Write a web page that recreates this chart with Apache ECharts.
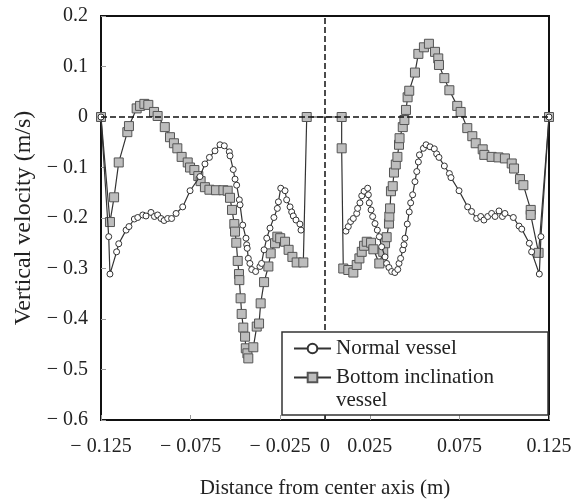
<!DOCTYPE html>
<html>
<head>
<meta charset="utf-8">
<script src="https://cdn.jsdelivr.net/npm/echarts@6/dist/echarts.min.js"></script>
<style>
  html, body { margin: 0; padding: 0; background: #fff; }
  #chart { width: 582px; height: 501px; }
</style>
</head>
<body>
<div id="chart"></div>
<script>
// normal vessel, left half of the section
const normalLeftX = [-0.125, -0.1207, -0.1200, -0.1163, -0.1151, -0.1110, -0.1094, -0.1064, -0.1045, -0.1017,
  -0.0999, -0.0971, -0.0952, -0.0934, -0.0915, -0.0898, -0.0878, -0.0856, -0.0831, -0.0794,
  -0.0753, -0.0698, -0.0670, -0.0645, -0.0614, -0.0586, -0.0562, -0.0534, -0.0530, -0.0512,
  -0.0502, -0.0493, -0.0478, -0.0474, -0.0459, -0.0441, -0.0437, -0.0434, -0.0428, -0.0419,
  -0.0409, -0.0387, -0.0363, -0.0354, -0.0340, -0.0325, -0.0307, -0.0285, -0.0266, -0.0260,
  -0.0247, -0.0223, -0.0214, -0.0195, -0.0186, -0.0177, -0.0162, -0.0140, -0.0134];
const normalLeftY = [0, -0.237, -0.311, -0.267, -0.251, -0.224, -0.217, -0.202, -0.199, -0.194,
  -0.196, -0.189, -0.197, -0.194, -0.201, -0.205, -0.201, -0.201, -0.191, -0.178,
  -0.146, -0.118, -0.093, -0.080, -0.067, -0.055, -0.057, -0.069, -0.077, -0.104,
  -0.123, -0.135, -0.164, -0.174, -0.214, -0.240, -0.253, -0.260, -0.280, -0.290,
  -0.302, -0.306, -0.296, -0.290, -0.263, -0.240, -0.220, -0.199, -0.181, -0.168,
  -0.141, -0.146, -0.164, -0.178, -0.188, -0.196, -0.204, -0.212, -0.224];

// normal vessel, right half
const normalRightX = [0.0117, 0.0130, 0.0143, 0.0158, 0.0177, 0.0182, 0.0195, 0.0205, 0.0218, 0.0238,
  0.0242, 0.0247, 0.0257, 0.0266, 0.0279, 0.0292, 0.0303, 0.0316, 0.0335, 0.0344,
  0.0357, 0.0372, 0.0390, 0.0406, 0.0413, 0.0422, 0.0434, 0.0441, 0.0446, 0.0459,
  0.0470, 0.0478, 0.0489, 0.0502, 0.0512, 0.0521, 0.0527, 0.0549, 0.0564, 0.0586,
  0.0610, 0.0623, 0.0636, 0.0666, 0.0694, 0.0703, 0.0748, 0.0796, 0.0818, 0.0846,
  0.0869, 0.0887, 0.0908, 0.0930, 0.0949, 0.0971, 0.0990, 0.1004, 0.1051, 0.1083,
  0.1098, 0.1140, 0.1153, 0.1196, 0.1205, 0.125];
const normalRightY = [-0.226, -0.217, -0.207, -0.201, -0.191, -0.181, -0.170, -0.156, -0.147, -0.141,
  -0.154, -0.170, -0.184, -0.197, -0.211, -0.224, -0.237, -0.257, -0.277, -0.290,
  -0.298, -0.306, -0.308, -0.302, -0.290, -0.280, -0.263, -0.253, -0.240, -0.212,
  -0.188, -0.170, -0.154, -0.128, -0.108, -0.089, -0.075, -0.062, -0.055, -0.059,
  -0.063, -0.073, -0.080, -0.097, -0.112, -0.120, -0.146, -0.178, -0.187, -0.201,
  -0.197, -0.204, -0.197, -0.191, -0.197, -0.186, -0.197, -0.191, -0.199, -0.216,
  -0.222, -0.250, -0.267, -0.311, -0.237, 0];

// bottom inclination vessel
const inclinedX = [-0.125, -0.1200, -0.1177, -0.1151, -0.1103, -0.1094, -0.1051, -0.1032, -0.1008, -0.0986,
  -0.0954, -0.0934, -0.0894, -0.0865, -0.0843, -0.0824, -0.0800, -0.0766, -0.0753, -0.0729,
  -0.0707, -0.0694, -0.0670, -0.0645, -0.0608, -0.0567, -0.0543, -0.0530, -0.0519, -0.0506,
  -0.0502, -0.0495, -0.0487, -0.0480, -0.0478, -0.0471, -0.0465, -0.0456, -0.0446, -0.0442,
  -0.0433, -0.0428, -0.0400, -0.0381, -0.0368, -0.0359, -0.0340, -0.0316, -0.0303, -0.0279,
  -0.0266, -0.0250, -0.0223, -0.0203, -0.0182, -0.0158, -0.0121, -0.0102, 0.0093, 0.0093,
  0.0102, 0.0130, 0.0158, 0.0177, 0.0192, 0.0205, 0.0218, 0.0233, 0.0257, 0.0270,
  0.0303, 0.0325, 0.0335, 0.0344, 0.0357, 0.0359, 0.0363, 0.0368, 0.0378, 0.0385,
  0.0395, 0.0404, 0.0413, 0.0416, 0.0434, 0.0443, 0.0452, 0.0461, 0.0470, 0.0502,
  0.0521, 0.0552, 0.0580, 0.0614, 0.0632, 0.0636, 0.0666, 0.0694, 0.0738, 0.0757,
  0.0794, 0.0822, 0.0841, 0.0880, 0.0889, 0.0930, 0.0968, 0.1004, 0.1042, 0.1055,
  0.1088, 0.1107, 0.1148, 0.1148, 0.1192, 0.125];
const inclinedY = [0, -0.208, -0.159, -0.090, -0.030, -0.018, 0.017, 0.022, 0.026, 0.024,
  0.010, 0.002, -0.020, -0.040, -0.052, -0.062, -0.079, -0.090, -0.100, -0.105,
  -0.117, -0.127, -0.139, -0.144, -0.145, -0.145, -0.146, -0.160, -0.184, -0.212,
  -0.227, -0.249, -0.285, -0.311, -0.323, -0.359, -0.390, -0.417, -0.435, -0.458,
  -0.468, -0.478, -0.456, -0.415, -0.409, -0.369, -0.327, -0.296, -0.270, -0.250,
  -0.237, -0.240, -0.247, -0.263, -0.277, -0.288, -0.288, 0, 0, -0.062,
  -0.300, -0.303, -0.308, -0.293, -0.280, -0.267, -0.255, -0.247, -0.249, -0.262,
  -0.290, -0.267, -0.250, -0.238, -0.211, -0.197, -0.181, -0.147, -0.137, -0.110,
  -0.094, -0.079, -0.055, -0.042, -0.020, -0.006, 0.014, 0.039, 0.052, 0.088,
  0.125, 0.138, 0.145, 0.129, 0.116, 0.103, 0.077, 0.053, 0.022, 0.010,
  -0.022, -0.038, -0.052, -0.064, -0.075, -0.079, -0.080, -0.082, -0.092, -0.102,
  -0.123, -0.135, -0.184, -0.194, -0.269, 0];

const xTicks = [-0.125, -0.075, -0.025, 0, 0.025, 0.075, 0.125];

const zip = (xs, ys) => xs.map((x, i) => [x, ys[i]]);
const font = 'Liberation Serif';
const minus = v => (v < 0 ? '\u2212 ' : '');

const chart = echarts.init(document.getElementById('chart'));

const normalStyle = {
  type: 'line',
  name: 'Normal vessel',
  symbol: 'circle',
  symbolSize: 6,
  lineStyle: { color: '#333', width: 1.2 },
  itemStyle: { color: '#fff', borderColor: '#333', borderWidth: 1 },
  z: 3
};

chart.setOption({
  animation: false,
  grid: {
    left: 101, right: 33, top: 16, bottom: 81,
    outerBoundsMode: 'none',
    show: true, borderColor: '#111', borderWidth: 2
  },
  xAxis: {
    type: 'value',
    min: -0.125, max: 0.125,
    name: 'Distance from center axis (m)',
    nameLocation: 'middle',
    nameGap: 58,
    nameTextStyle: { fontFamily: font, fontSize: 21, color: '#222' },
    axisLine: { onZero: false, lineStyle: { color: '#111', width: 2 } },
    axisTick: { inside: true, length: 5, customValues: xTicks, lineStyle: { color: '#999' } },
    axisLabel: {
      customValues: xTicks,
      fontFamily: font, fontSize: 20, color: '#222', margin: 17,
      formatter: v => v === 0 ? '0' : minus(v) + Math.abs(v).toFixed(3)
    },
    splitLine: { show: false }
  },
  yAxis: {
    type: 'value',
    min: -0.6, max: 0.2, interval: 0.1,
    name: 'Vertical velocity (m/s)',
    nameLocation: 'middle',
    nameGap: 59,
    nameTextStyle: { fontFamily: font, fontSize: 24, color: '#222' },
    axisLine: { show: true, onZero: false, lineStyle: { color: '#111', width: 2 } },
    axisTick: { show: true, inside: true, length: 5, lineStyle: { color: '#999' } },
    axisLabel: {
      fontFamily: font, fontSize: 20, color: '#222', margin: 13,
      formatter: v => Math.abs(v) < 1e-9 ? '0' : minus(v) + Math.abs(v).toFixed(1)
    },
    splitLine: { show: false }
  },
  legend: {
    orient: 'vertical',
    left: 293, top: 338,
    padding: 0,
    itemWidth: 37, itemHeight: 12, itemGap: 8,
    z: 60,
    textStyle: { fontFamily: font, fontSize: 21, color: '#222' },
    formatter: n => n === 'Bottom inclination vessel' ? 'Bottom inclination' : n,
    data: ['Normal vessel', 'Bottom inclination vessel']
  },
  graphic: [
    {
      type: 'rect', z: 50,
      shape: { x: 282, y: 332, width: 266, height: 83 },
      style: { fill: '#fff', stroke: '#333', lineWidth: 1.5 }
    },
    {
      type: 'text', z: 60, left: 336, top: 390,
      style: { text: 'vessel', font: '21px "Liberation Serif"', fill: '#222' }
    }
  ],
  series: [
    Object.assign({}, normalStyle, { data: zip(normalLeftX, normalLeftY) }),
    Object.assign({}, normalStyle, { data: zip(normalRightX, normalRightY) }),
    {
      type: 'line',
      name: 'Bottom inclination vessel',
      symbol: 'rect',
      symbolSize: 9,
      lineStyle: { color: '#333', width: 1.2 },
      itemStyle: { color: '#bdbdbd', borderColor: '#555', borderWidth: 1 },
      data: zip(inclinedX, inclinedY),
      z: 2,
      markLine: {
        silent: true,
        symbol: 'none',
        label: { show: false },
        lineStyle: { color: '#111', type: 'dashed', width: 1.5 },
        data: [{ yAxis: 0 }, { xAxis: 0 }]
      }
    }
  ]
});
</script>
</body>
</html>
